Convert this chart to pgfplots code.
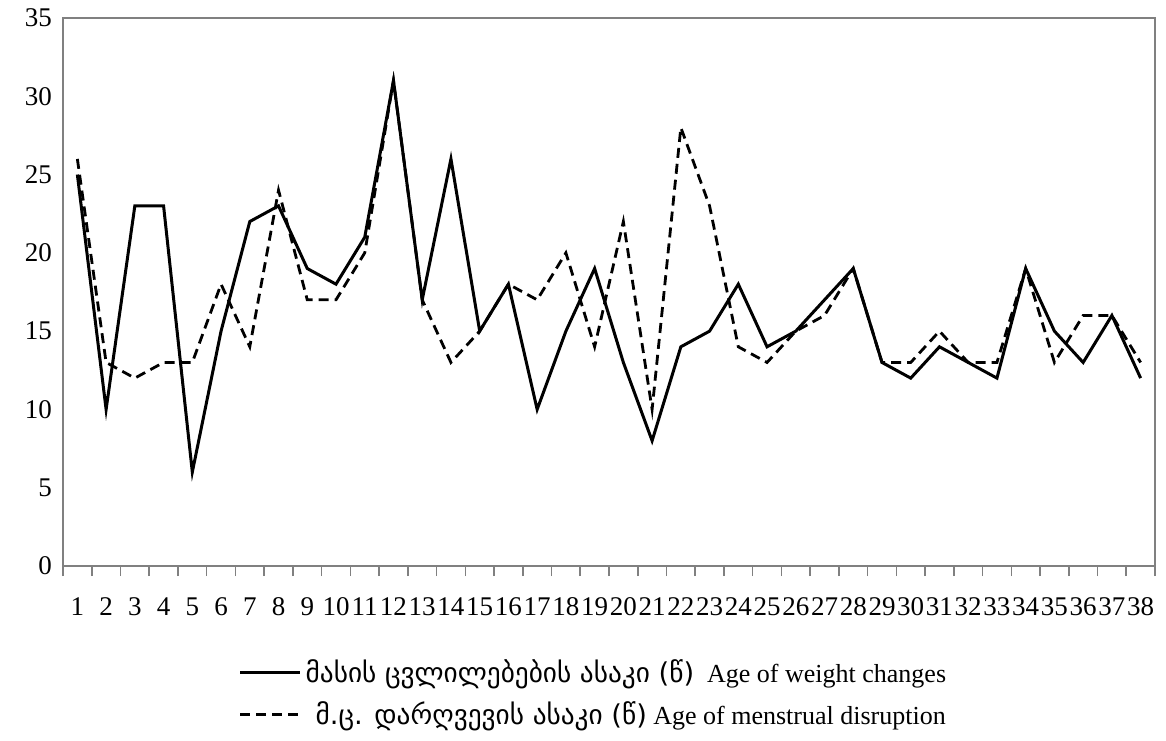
\documentclass[border=0pt]{standalone}
\usepackage{fontspec}
\setmainfont{Liberation Serif}
\newfontfamily\geo{DejaVu Sans}[Scale=1.05]
\usepackage{pgfplots}
\pgfplotsset{compat=1.18}

% age of weight changes / age of menstrual disruption, 38 cases
\pgfplotstableread{
case weight menstr
1  25 26
2  10 13
3  23 12
4  23 13
5  6  13
6  15 18
7  22 14
8  23 24
9  19 17
10 18 17
11 21 20
12 31 31
13 17 17
14 26 13
15 15 15
16 18 18
17 10 17
18 15 20
19 19 14
20 13 22
21 8  10
22 14 28
23 15 23
24 18 14
25 14 13
26 15 15
27 17 16
28 19 19
29 13 13
30 12 13
31 14 15
32 13 13
33 12 13
34 19 19
35 15 13
36 13 16
37 16 16
38 12 13
}\agedata

\begin{document}
\begin{tikzpicture}
\begin{axis}[
    width=546pt, height=274pt, scale only axis,
    xmin=0.5, xmax=38.5, ymin=0, ymax=35,
    xtick={1,...,38},
    minor xtick={0.5,1.5,...,38.5},
    xtick pos=bottom,
    major x tick style={draw=none},
    minor x tick style={gray, line width=0.8pt},
    tick align=outside,
    major tick length=0pt,
    minor tick length=5pt,
    ytick distance=5,
    ytick style={draw=none},
    axis line style={gray, line width=0.8pt},
    xticklabel style={yshift=-12pt, text height=9pt, text depth=1pt},
    yticklabel style={xshift=-2pt},
    tick label style={font=\fontsize{13.5}{15}\selectfont},
    /pgf/number format/assume math mode=true,
    legend style={at={(0.155,-0.155)}, anchor=north west, draw=none,
        font=\fontsize{13}{15}\selectfont, row sep=4pt,
        cells={anchor=west}},
    legend image code/.code={\draw[#1] (0pt,0pt) -- (30pt,0pt);},
]
\addplot[black, line width=1.5pt] table[x=case, y=weight] {\agedata};
\addlegendentry{{\geo მასის ცვლილებების ასაკი (წ)}\ \ Age of weight changes}
\addplot[black, line width=1.4pt, dash pattern=on 5pt off 3pt] table[x=case, y=menstr] {\agedata};
\addlegendentry{\hspace{5pt}{\geo მ.ც. დარღვევის ასაკი (წ)} Age of menstrual disruption}
\coordinate (bl) at (rel axis cs:0,0);
\coordinate (tr) at (rel axis cs:1,1);
\end{axis}
\path ([shift={(-31.5pt,-87pt)}]bl) rectangle ([shift={(5.5pt,9pt)}]tr);
\end{tikzpicture}
\end{document}
